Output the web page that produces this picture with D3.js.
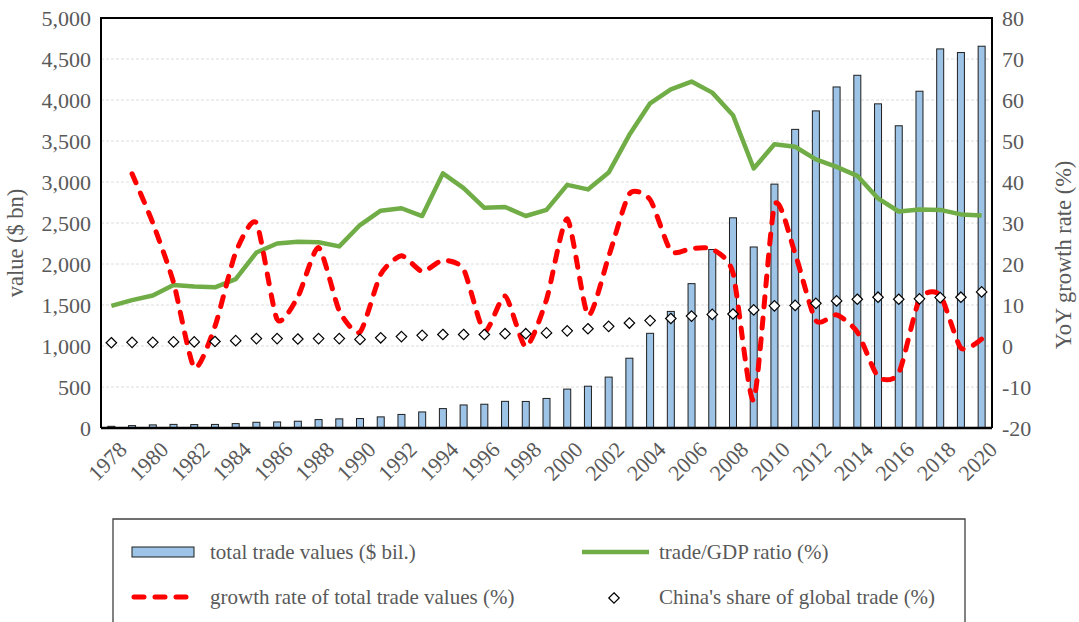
<!DOCTYPE html>
<html>
<head>
<meta charset="utf-8">
<style>
  body { margin: 0; background: #fff; }
</style>
<script src="https://cdn.jsdelivr.net/npm/d3@7"></script>
</head>
<body>
<div id="chart"></div>
<script>
// data
var years = d3.range(1978, 2021);
var tradeValues = [20.6, 29.3, 38.1, 44.0, 41.6, 43.6, 53.5, 69.6, 73.8, 82.7,
  102.8, 111.7, 115.4, 135.7, 165.5, 195.7, 236.6, 280.9, 289.9, 325.2,
  323.9, 360.6, 474.3, 509.7, 620.8, 851.0, 1154.6, 1421.9, 1760.4, 2176.6,
  2563.3, 2207.5, 2974.0, 3641.9, 3867.1, 4159.0, 4301.5, 3953.0, 3685.6, 4107.1,
  4623.0, 4578.9, 4655.9];
// growth rate starts in 1979
var growthRate = [null, 42.0, 30.0, 15.5, -5.3, 4.8, 22.8, 30.0, 6.5, 12.0,
  24.0, 8.6, 3.4, 17.5, 22.0, 18.2, 20.9, 18.7, 3.5, 12.2,
  -0.2, 11.3, 31.0, 7.5, 21.8, 37.1, 35.7, 23.2, 23.8, 23.6,
  17.8, -13.2, 34.2, 22.5, 6.2, 7.6, 3.4, -7.5, -6.6, 11.4,
  12.4, -0.5, 1.7];
var tradeGdp = [9.8, 11.2, 12.3, 14.9, 14.5, 14.3, 16.3, 22.8, 25.0, 25.4,
  25.3, 24.3, 29.5, 33.0, 33.6, 31.7, 42.1, 38.5, 33.7, 33.9,
  31.7, 33.2, 39.3, 38.2, 42.3, 51.5, 59.2, 62.6, 64.5, 61.8,
  56.3, 43.3, 49.2, 48.6, 45.5, 43.7, 41.5, 36.0, 32.8, 33.3,
  33.2, 32.1, 31.8];
var chinaShare = [0.8, 0.9, 0.9, 1.0, 1.0, 1.1, 1.3, 1.8, 1.8, 1.7,
  1.8, 1.8, 1.6, 2.0, 2.3, 2.6, 2.8, 2.8, 2.8, 3.0,
  3.0, 3.2, 3.7, 4.2, 4.8, 5.6, 6.2, 6.7, 7.3, 7.7,
  7.8, 8.8, 9.8, 9.9, 10.4, 11.0, 11.4, 11.9, 11.4, 11.5,
  11.8, 11.9, 13.2];
var leftTicks = d3.range(0, 5001, 500);
var rightTicks = d3.range(-20, 81, 10);

var W = 1079, H = 622;
var plot = { left: 101, right: 992, top: 18, bottom: 428 };
var FONT = "'Liberation Serif', 'Times New Roman', Times, serif";
var GREY = "#595959";

var svg = d3.select("#chart").append("svg")
    .attr("width", W).attr("height", H)
    .attr("font-family", FONT)
    .style("font-family", FONT);

var x = d3.scaleBand().domain(years).range([plot.left, plot.right]).padding(0);
var yL = d3.scaleLinear().domain([0, 5000]).range([plot.bottom, plot.top]);
var yR = d3.scaleLinear().domain([-20, 80]).range([plot.bottom, plot.top]);
var cx = function (i) { return x(years[i]) + x.bandwidth() / 2; };

// gridlines
svg.append("g").selectAll("line")
    .data(leftTicks.slice(1, -1))
    .enter().append("line")
    .attr("x1", plot.left).attr("x2", plot.right)
    .attr("y1", function (d) { return yL(d); })
    .attr("y2", function (d) { return yL(d); })
    .attr("stroke", "#dcdcdc").attr("stroke-width", 1)
    .attr("stroke-dasharray", "3,2");

// bars
var barW = 7;
svg.append("g").selectAll("rect")
    .data(tradeValues)
    .enter().append("rect")
    .attr("x", function (d, i) { return cx(i) - barW / 2; })
    .attr("y", function (d) { return yL(d); })
    .attr("width", barW)
    .attr("height", function (d) { return plot.bottom - yL(d); })
    .attr("fill", "#9dc3e6")
    .attr("stroke", "#1f1f1f").attr("stroke-width", 1);

// trade/GDP line
var lineG = d3.line()
    .x(function (d, i) { return cx(i); })
    .y(function (d) { return yR(d); });
svg.append("path")
    .datum(tradeGdp)
    .attr("d", lineG)
    .attr("fill", "none")
    .attr("stroke", "#70ad47").attr("stroke-width", 4.5)
    .attr("stroke-linejoin", "round");

// growth rate line (smoothed, dashed)
var growthPts = [];
growthRate.forEach(function (d, i) { if (d !== null) growthPts.push([cx(i), yR(d)]); });
svg.append("path")
    .datum(growthPts)
    .attr("d", d3.line().curve(d3.curveCardinal.tension(0.35)))
    .attr("fill", "none")
    .attr("stroke", "#ff0000").attr("stroke-width", 5)
    .attr("stroke-dasharray", "10,11")
    .attr("stroke-linecap", "round");

// diamonds for China's share
var diamond = d3.symbol().type(d3.symbolDiamond2).size(70);
svg.append("g").selectAll("path")
    .data(chinaShare)
    .enter().append("path")
    .attr("d", diamond)
    .attr("transform", function (d, i) { return "translate(" + cx(i) + "," + yR(d) + ")"; })
    .attr("fill", "#fff").attr("stroke", "#000").attr("stroke-width", 1.2);

// frame
svg.append("path")
    .attr("d", "M" + plot.left + "," + plot.bottom + "V" + plot.top + "H" + plot.right + "V" + plot.bottom)
    .attr("fill", "none").attr("stroke", "#000").attr("stroke-width", 2);
svg.append("line")
    .attr("x1", plot.left).attr("x2", plot.right)
    .attr("y1", plot.bottom).attr("y2", plot.bottom)
    .attr("stroke", "#000").attr("stroke-width", 2.5);

// left axis labels
var fmt = d3.format(",");
svg.append("g").selectAll("text")
    .data(leftTicks)
    .enter().append("text")
    .attr("x", plot.left - 10)
    .attr("y", function (d) { return yL(d); })
    .attr("dy", "0.35em")
    .attr("text-anchor", "end")
    .attr("fill", GREY)
    .style("font-size", "22px")
    .text(function (d) { return fmt(d); });

// right axis labels
svg.append("g").selectAll("text")
    .data(rightTicks)
    .enter().append("text")
    .attr("x", plot.right + 10)
    .attr("y", function (d) { return yR(d); })
    .attr("dy", "0.35em")
    .attr("fill", GREY)
    .style("font-size", "22px")
    .text(function (d) { return d; });

// x axis labels
svg.append("g").selectAll("text")
    .data(years.filter(function (d) { return d % 2 === 0; }))
    .enter().append("text")
    .attr("transform", function (d) {
        return "translate(" + (x(d) + x.bandwidth() / 2 + 6) + "," + (plot.bottom + 12) + ") rotate(-45)";
    })
    .attr("text-anchor", "end")
    .attr("dy", "0.7em")
    .attr("fill", GREY)
    .style("font-size", "22px")
    .text(function (d) { return d; });

// axis titles
svg.append("text")
    .attr("transform", "translate(23,243) rotate(-90)")
    .attr("text-anchor", "middle")
    .attr("fill", GREY)
    .style("font-size", "22.5px")
    .text("value ($ bn)");
svg.append("text")
    .attr("transform", "translate(1055,255) rotate(-90)")
    .attr("text-anchor", "middle")
    .attr("dy", "0.7em")
    .attr("fill", GREY)
    .style("font-size", "22.5px")
    .text("YoY growth rate (%)");

// legend
var lg = svg.append("g").attr("fill", GREY);
lg.append("path")
    .attr("d", "M113,623V519H965V623")
    .attr("fill", "none").attr("stroke", "#404040").attr("stroke-width", 1.3);

lg.append("rect")
    .attr("x", 132).attr("y", 547).attr("width", 62).attr("height", 10)
    .attr("fill", "#9dc3e6").attr("stroke", "#1f1f1f").attr("stroke-width", 1);
lg.append("text").attr("x", 210).attr("y", 552).attr("dy", "0.35em")
    .style("font-size", "21px").text("total trade values ($ bil.)");

lg.append("line")
    .attr("x1", 582).attr("x2", 649).attr("y1", 552).attr("y2", 552)
    .attr("stroke", "#70ad47").attr("stroke-width", 4.5);
lg.append("text").attr("x", 659).attr("y", 552).attr("dy", "0.35em")
    .style("font-size", "21px").text("trade/GDP ratio (%)");

lg.append("line")
    .attr("x1", 134).attr("x2", 188).attr("y1", 597).attr("y2", 597)
    .attr("stroke", "#ff0000").attr("stroke-width", 5)
    .attr("stroke-dasharray", "10,11").attr("stroke-linecap", "round");
lg.append("text").attr("x", 210).attr("y", 597).attr("dy", "0.35em")
    .style("font-size", "21px").text("growth rate of total trade values (%)");

lg.append("path")
    .attr("d", diamond)
    .attr("transform", "translate(614,598)")
    .attr("fill", "#fff").attr("stroke", "#000").attr("stroke-width", 1.2);
lg.append("text").attr("x", 659).attr("y", 597).attr("dy", "0.35em")
    .style("font-size", "21px").text("China's share of global trade (%)");
</script>
</body>
</html>
